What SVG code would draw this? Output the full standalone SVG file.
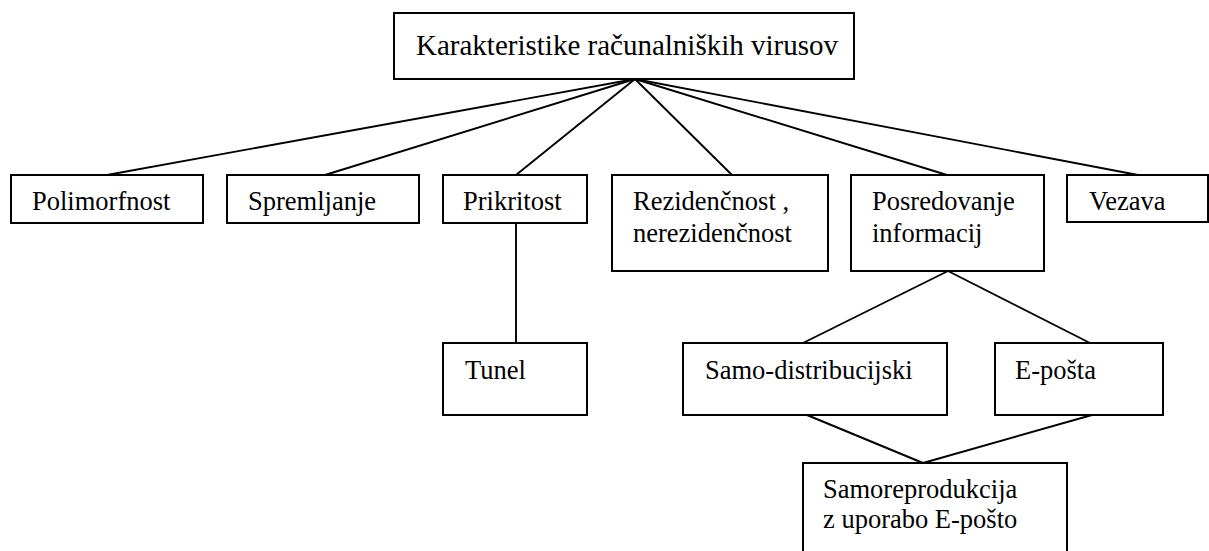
<svg xmlns="http://www.w3.org/2000/svg" width="1209" height="551" viewBox="0 0 1209 551">
<style>
rect{fill:#fff;stroke:#000;stroke-width:2}
text{font-size:26.5px;fill:#000}
.t{font-size:29px}
#connectors line{stroke:#000;stroke-width:1.9}
</style>
<rect x="0" y="0" width="1209" height="551" style="stroke:none"/>
<g id="connectors">
<line x1="635" y1="79" x2="107" y2="175"/>
<line x1="635" y1="79" x2="325" y2="175"/>
<line x1="635" y1="79" x2="516" y2="175"/>
<line x1="635" y1="79" x2="732" y2="175"/>
<line x1="635" y1="79" x2="947" y2="175"/>
<line x1="635" y1="79" x2="1138" y2="175"/>
<line x1="516" y1="223" x2="516" y2="343"/>
<line x1="948" y1="271" x2="803" y2="343"/>
<line x1="948" y1="271" x2="1090" y2="343"/>
<line x1="807" y1="415" x2="923" y2="463"/>
<line x1="1092" y1="415" x2="923" y2="463"/>
</g>
<g font-family="'Liberation Serif', 'Times New Roman', 'DejaVu Serif', serif">
<g id="root"><rect x="394" y="13" width="460" height="66"/><text class="t" x="416" y="55">Karakteristike računalniških virusov</text></g>
<g id="polimorfnost"><rect x="11" y="175" width="192" height="48"/><text x="32" y="210">Polimorfnost</text></g>
<g id="spremljanje"><rect x="227" y="175" width="192" height="48"/><text x="248" y="210">Spremljanje</text></g>
<g id="prikritost"><rect x="443" y="175" width="144" height="48"/><text x="463" y="210">Prikritost</text></g>
<g id="rezidencnost"><rect x="612" y="175" width="216" height="96"/><text x="633" y="210">Rezidenčnost ,</text><text x="633" y="242">nerezidenčnost</text></g>
<g id="posredovanje"><rect x="851" y="175" width="193" height="96"/><text x="872" y="210">Posredovanje</text><text x="872" y="242">informacij</text></g>
<g id="vezava"><rect x="1067" y="175" width="141" height="47"/><text x="1089" y="210">Vezava</text></g>
<g id="tunel"><rect x="443" y="343" width="144" height="72"/><text x="465" y="379">Tunel</text></g>
<g id="samodistribucijski"><rect x="683" y="343" width="264" height="72"/><text x="705" y="379">Samo-distribucijski</text></g>
<g id="eposta"><rect x="995" y="343" width="168" height="72"/><text x="1015" y="379">E-pošta</text></g>
<g id="samoreprodukcija"><rect x="803" y="463" width="264" height="100"/><text x="823" y="498">Samoreprodukcija</text><text x="823" y="528">z uporabo E-pošto</text></g>
</g>
</svg>
